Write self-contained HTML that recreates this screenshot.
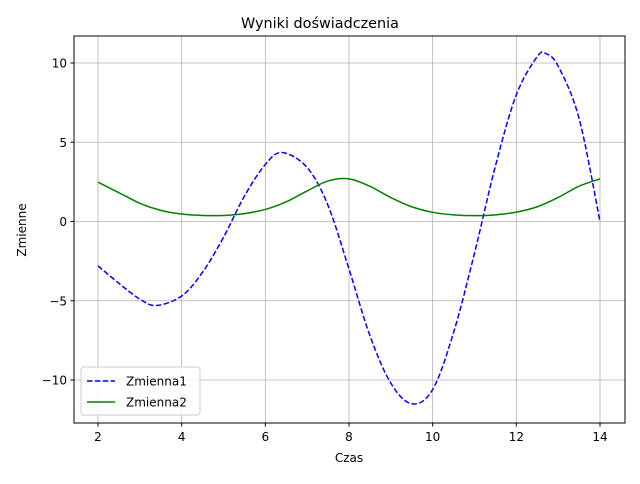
<!DOCTYPE html>
<html><head><meta charset="utf-8"><style>
body{margin:0;background:#fff;font-family:"DejaVu Sans","Liberation Sans",sans-serif}
svg text{font-family:"DejaVu Sans","Liberation Sans",sans-serif;fill:#000}
</style></head><body>
<svg id="chart" width="640" height="480" xmlns="http://www.w3.org/2000/svg">
<rect width="640" height="480" fill="#fff"/>
<g id="grid"></g>
<g id="series"></g>
<rect x="74" y="36" width="551" height="387" fill="none" stroke="#000" stroke-width="1"/>
<g id="ticks"></g>
<text x="320" y="28" font-size="14.4" text-anchor="middle">Wyniki doświadczenia</text>
<text x="349" y="462" font-size="12" text-anchor="middle">Czas</text>
<text x="26" y="230" font-size="12" text-anchor="middle" transform="rotate(-90 26 230)">Zmienne</text>
<g>
<rect x="81" y="367" width="119" height="48" rx="3" fill="#fff" fill-opacity="0.8" stroke="#ccc"/>
<g>
<line x1="87" y1="381" x2="115" y2="381" stroke="#0000ff" stroke-width="1.5" stroke-dasharray="5.5,2.4"/>
<text x="126" y="385.5" font-size="12">Zmienna1</text></g>
<g>
<line x1="87" y1="402" x2="115" y2="402" stroke="#008000" stroke-width="1.5"/>
<text x="126" y="406.5" font-size="12">Zmienna2</text></g>
</g>
</svg>
<script>
const xs1=[2,2.5,3,3.4,4,4.5,5,5.5,6,6.4,7,7.5,8,8.5,9,9.5,10,10.5,11,11.5,12,12.5,12.7,13,13.5,14];
const zmienna1=[-2.8,-3.9,-4.9,-5.3,-4.7,-3.2,-1.0,1.6,3.6,4.35,3.4,1.0,-3.0,-7.2,-10.2,-11.5,-10.6,-7.0,-2.0,3.5,8.0,10.4,10.6,9.8,6.5,0];
const xs2=[2,2.5,3,3.5,4,4.5,5,5.5,6,6.5,7,7.5,8,8.5,9,9.5,10,10.5,11,11.5,12,12.5,13,13.5,14];
const zmienna2=[2.48,1.82,1.15,0.7,0.47,0.38,0.38,0.5,0.76,1.24,1.93,2.56,2.69,2.22,1.51,0.93,0.58,0.42,0.37,0.42,0.59,0.93,1.52,2.23,2.69];
const xTicks=[2,4,6,8,10,12,14];
const yTicks=[-10,-5,0,5,10];
const NS="http://www.w3.org/2000/svg";
const sx=v=>98+(v-2)*(502/12);
const sy=v=>221.5-v*15.85;
function mk(tag,attrs,parent){const e=document.createElementNS(NS,tag);for(const k in attrs)e.setAttribute(k,attrs[k]);parent.appendChild(e);return e;}
const grid=document.getElementById('grid'),ticks=document.getElementById('ticks'),series=document.getElementById('series');
xTicks.forEach(t=>{const x=sx(t);
const g=mk('line',{x1:x,x2:x,y1:36,y2:423,stroke:'#b0b0b0','stroke-width':0.8},grid);


mk('line',{x1:x,x2:x,y1:423,y2:426.5,stroke:'#000'},ticks);
const l=mk('text',{x:x,y:441,'font-size':12,'text-anchor':'middle'},ticks);l.textContent=t;

});
yTicks.forEach(t=>{const y=sy(t);
const g=mk('line',{x1:74,x2:625,y1:y,y2:y,stroke:'#b0b0b0','stroke-width':0.8},grid);


mk('line',{x1:70.5,x2:74,y1:y,y2:y,stroke:'#000'},ticks);
const l=mk('text',{x:67,y:y+4.5,'font-size':12,'text-anchor':'end'},ticks);l.textContent=t<0?'\u2212'+(-t):t;

});
function pathD(xs,ys){const p=xs.map((x,i)=>[sx(x),sy(ys[i])]);let d='M'+p[0][0]+','+p[0][1];
for(let i=0;i<p.length-1;i++){const p0=p[i-1]||p[i],p1=p[i],p2=p[i+1],p3=p[i+2]||p[i+1];
d+=' C'+(p1[0]+(p2[0]-p0[0])/6)+','+(p1[1]+(p2[1]-p0[1])/6)+' '+(p2[0]-(p3[0]-p1[0])/6)+','+(p2[1]-(p3[1]-p1[1])/6)+' '+p2[0]+','+p2[1];}
return d;}
const s1=mk('path',{d:pathD(xs1,zmienna1),fill:'none',stroke:'#0000ff','stroke-width':1.5,'stroke-dasharray':'5.5,2.4'},series);


const s2=mk('path',{d:pathD(xs2,zmienna2),fill:'none',stroke:'#008000','stroke-width':1.5},series);


</script>
</body></html>
